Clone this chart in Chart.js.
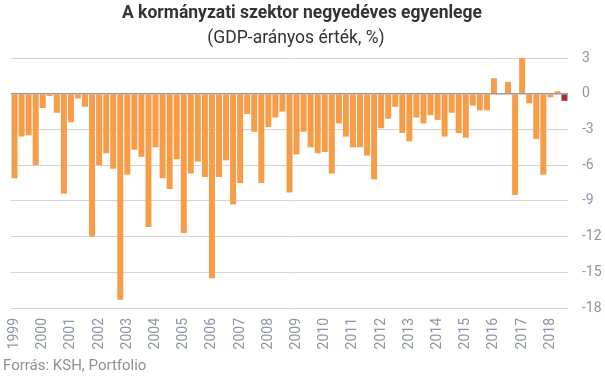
<!DOCTYPE html>
<html lang="hu">
<head>
    <meta charset="UTF-8">
    <title>A kormányzati szektor negyedéves egyenlege</title>
    <script src="https://cdn.jsdelivr.net/npm/chart.js"></script>
    <style>
        body {
            margin: 0;
            padding: 0;
            background: white;
        }

        .chart-box {
            position: relative;
            width: 605px;
            height: 378px;
        }
    </style>
</head>
<body>

    <div class="chart-box">
        <canvas id="balanceChart" width="605" height="378"></canvas>
    </div>

    <script>
        // Years shown on the x axis (label sits on Q1 of each year)
        var years = ['1999', '2000', '2001', '2002', '2003', '2004', '2005', '2006', '2007', '2008',
                     '2009', '2010', '2011', '2012', '2013', '2014', '2015', '2016', '2017', '2018'];

        // Quarterly balance, % of GDP, 1999 Q1 - 2018 Q3
        var balance = [
            -7.1, -3.6, -3.5, -6.0,
            -1.2, -0.2, -1.6, -8.4,
            -2.4, -0.4, -1.1, -12.0,
            -6.0, -5.0, -6.3, -17.3,
            -6.8, -4.7, -5.3, -11.2,
            -4.5, -7.1, -8.0, -5.5,
            -11.7, -6.7, -5.7, -7.0,
            -15.5, -7.0, -5.6, -9.3,
            -7.5, -1.7, -3.2, -7.5,
            -2.8, -2.0, -1.5, -8.3,
            -5.1, -3.2, -4.5, -5.0,
            -4.9, -6.7, -2.5, -3.6,
            -4.5, -4.5, -5.2, -7.2,
            -2.9, -2.1, -1.1, -3.3,
            -4.0, -2.0, -2.5, -1.8,
            -2.2, -3.6, -1.6, -3.3,
            -3.7, -1.0, -1.4, -1.4,
            1.3, 0.0, 1.0, -8.5,
            3.0, -0.8, -3.8, -6.8,
            -0.3, 0.2, -0.6
        ];

        var yTicks = [3, 0, -3, -6, -9, -12, -15, -18];

        var quarterLabels = [];
        years.forEach(function(y) {
            for (var q = 1; q <= 4; q++) quarterLabels.push(y + ' Q' + q);
        });
        quarterLabels = quarterLabels.slice(0, balance.length);

        var barColors = balance.map(function(v, i) {
            return i === balance.length - 1 ? '#a2342b' : '#f79c47';
        });

        // Titles and source text drawn straight on the canvas
        var textPlugin = {
            id: 'texts',
            afterDraw: function(chart) {
                var c = chart.ctx;
                c.save();
                c.textBaseline = 'middle';
                c.textAlign = 'center';
                c.fillStyle = '#333333';
                c.font = 'bold 17.5px Roboto';
                c.fillText('A kormányzati szektor negyedéves egyenlege', 302, 14);
                c.font = '17.5px Roboto';
                c.fillText('(GDP-arányos érték, %)', 296, 39);
                c.textAlign = 'left';
                c.fillStyle = '#8f8f8f';
                c.font = '15px Roboto';
                c.fillText('Forrás: KSH, Portfolio', 3, 366);
                c.restore();
            }
        };

        var ctx = document.getElementById('balanceChart').getContext('2d');
        var balanceChart = new Chart(ctx, {
            type: 'bar',
            data: {
                labels: quarterLabels,
                datasets: [{
                    data: balance,
                    backgroundColor: barColors,
                    barPercentage: 0.85,
                    categoryPercentage: 1.0
                }]
            },
            options: {
                responsive: false,
                animation: false,
                layout: {
                    padding: { top: 58, left: 11, right: 0, bottom: 26 }
                },
                plugins: {
                    legend: { display: false },
                    tooltip: { enabled: false }
                },
                scales: {
                    x: {
                        grid: { display: false, drawTicks: false },
                        border: { display: false },
                        ticks: {
                            autoSkip: false,
                            maxRotation: 90,
                            minRotation: 90,
                            padding: 10,
                            color: '#8d95a6',
                            font: { family: 'Roboto', size: 14 },
                            callback: function(value, index) {
                                return index % 4 === 0 ? years[index / 4] : '';
                            }
                        },
                        afterFit: function(scale) { scale.height = 44; }
                    },
                    y: {
                        position: 'right',
                        min: yTicks[yTicks.length - 1],
                        max: yTicks[0],
                        afterBuildTicks: function(scale) {
                            scale.ticks = yTicks.map(function(v) { return { value: v }; });
                        },
                        grid: {
                            drawTicks: false,
                            color: function(c) {
                                return c.tick && c.tick.value === 0 ? '#9a9a9a' : '#d4d4d4';
                            },
                            lineWidth: function(c) {
                                return c.tick && c.tick.value === 0 ? 1.5 : 1;
                            }
                        },
                        border: { display: false },
                        ticks: {
                            padding: 14,
                            color: '#8d95a6',
                            font: { family: 'Roboto', size: 14 }
                        },
                        afterFit: function(scale) { scale.width = 37; }
                    }
                }
            },
            plugins: [textPlugin]
        });
    </script>
</body>
</html>
